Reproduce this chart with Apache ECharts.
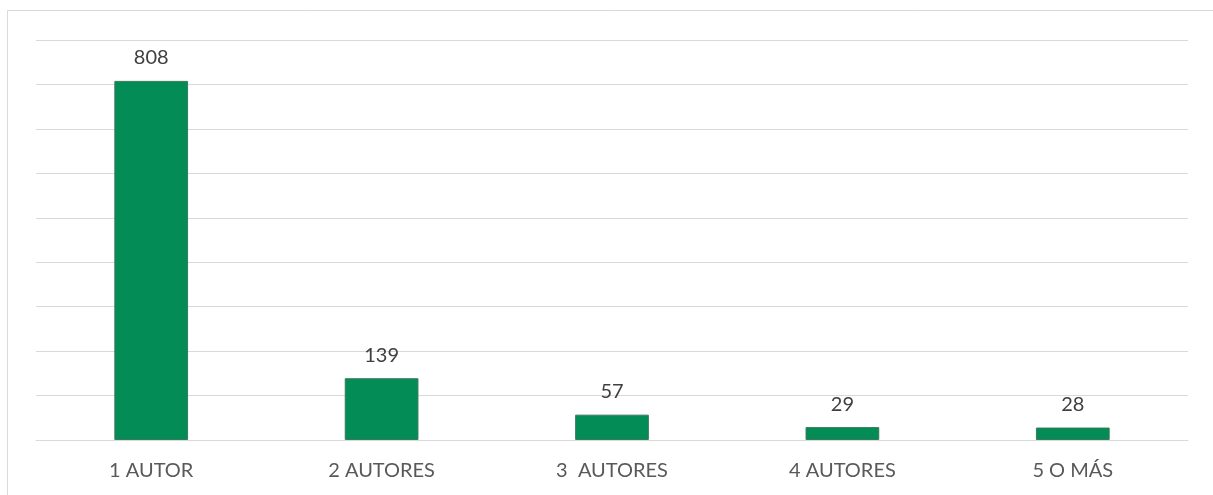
<!DOCTYPE html>
<html>
<head>
<meta charset="utf-8">
<script src="https://cdn.jsdelivr.net/npm/echarts@6/dist/echarts.min.js"></script>
<style>
  html, body { margin: 0; padding: 0; background: #fff; }
  .box { width: 1213px; height: 495px; }
</style>
</head>
<body>
<div class="box"></div>
<script>
const chartDom = document.getElementsByClassName('box')[0];
const myChart = echarts.init(chartDom);
let option;

const categories = ['1 AUTOR', '2 AUTORES', '3  AUTORES', '4 AUTORES', '5 O MÁS'];
const values = [808, 139, 57, 29, 28];

option = {
    animation: false,
    textStyle: { fontFamily: 'Lato' },
    graphic: [
        {
            type: 'rect',
            silent: true,
            shape: { x: 7.5, y: 10.5, width: 1300, height: 600 },
            style: { fill: 'none', stroke: '#d9d9d9', lineWidth: 1 }
        }
    ],
    grid: { left: 36, right: 25, top: 40, bottom: 55 },
    xAxis: {
        type: 'category',
        data: categories,
        axisLine: { lineStyle: { color: '#d9d9d9', width: 1 } },
        axisTick: { show: false },
        axisLabel: { color: '#595959', fontSize: 20, margin: 21 }
    },
    yAxis: {
        type: 'value',
        min: 0,
        max: 900,
        interval: 100,
        axisLine: { show: false },
        axisTick: { show: false },
        axisLabel: { show: false },
        splitLine: { lineStyle: { color: '#d9d9d9', width: 1 } }
    },
    series: [
        {
            type: 'bar',
            data: values,
            barWidth: '32%',
            itemStyle: { color: '#038c55', borderColor: '#3a7a5c', borderWidth: 1 },
            label: {
                show: true,
                position: 'top',
                distance: 13,
                color: '#404040',
                fontSize: 20
            }
        }
    ]
};

myChart.setOption(option);
</script>
</body>
</html>
